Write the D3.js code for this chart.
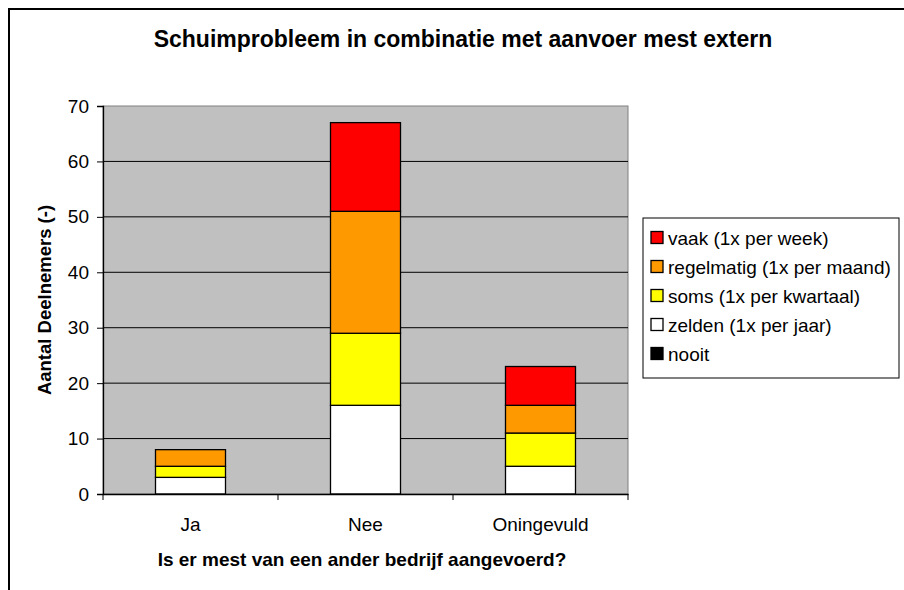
<!DOCTYPE html>
<html>
<head>
<meta charset="utf-8">
<script src="https://cdn.jsdelivr.net/npm/d3@7"></script>
<style>
  body { margin: 0; background: #fff; }
  text { font-family: Arial, "Liberation Sans", sans-serif; }
</style>
</head>
<body>
<div id="chart"></div>
<script>
// data
var categories = ["Ja", "Nee", "Oningevuld"];
var seriesNames = ["nooit", "zelden (1x per jaar)", "soms (1x per kwartaal)", "regelmatig (1x per maand)", "vaak (1x per week)"];
var nooit      = [0, 0, 0];
var zelden     = [3, 16, 5];
var soms       = [2, 13, 6];
var regelmatig = [3, 22, 5];
var vaak       = [0, 16, 7];
var seriesColors = ["#000000", "#ffffff", "#ffff00", "#ff9900", "#ff0000"];
var yTicks = [0, 10, 20, 30, 40, 50, 60, 70];

var width = 904, height = 590,
    plot = { left: 103, right: 628, top: 106, bottom: 494 };

var svg = d3.select("#chart").append("svg")
    .attr("width", width)
    .attr("height", height);

// outer chart border
svg.append("rect")
    .attr("x", 9).attr("y", 9)
    .attr("width", width + 20).attr("height", height + 20)
    .attr("fill", "#fff")
    .attr("stroke", "#000")
    .attr("stroke-width", 2);

var x = d3.scaleBand()
    .domain(categories)
    .range([plot.left, plot.right])
    .paddingInner(0.6)
    .paddingOuter(0.3);

var xb = d3.scaleBand()
    .domain(categories)
    .range([plot.left, plot.right]);

var y = d3.scaleLinear()
    .domain([0, 70])
    .range([plot.bottom, plot.top]);

// plot area
svg.append("rect")
    .attr("x", plot.left).attr("y", plot.top)
    .attr("width", plot.right - plot.left)
    .attr("height", plot.bottom - plot.top)
    .attr("fill", "#c0c0c0")
    .attr("stroke", "#808080")
    .attr("stroke-width", 1);

// gridlines
svg.append("g")
  .selectAll("line")
  .data(yTicks.filter(function(d) { return d > 0 && d < 70; }))
  .enter().append("line")
    .attr("x1", plot.left).attr("x2", plot.right)
    .attr("y1", function(d) { return y(d); })
    .attr("y2", function(d) { return y(d); })
    .attr("stroke", "#000")
    .attr("stroke-width", 1);

// stacked bars
var rows = categories.map(function(c, i) {
  return { cat: c, nooit: nooit[i], zelden: zelden[i], soms: soms[i], regelmatig: regelmatig[i], vaak: vaak[i] };
});
var keys = ["nooit", "zelden", "soms", "regelmatig", "vaak"];
var stacked = d3.stack().keys(keys)(rows);

svg.append("g")
  .selectAll("g")
  .data(stacked)
  .enter().append("g")
    .attr("fill", function(d, i) { return seriesColors[i]; })
  .selectAll("rect")
  .data(function(d) { return d.filter(function(p) { return p[1] - p[0] > 0; }); })
  .enter().append("rect")
    .attr("x", function(d) { return x(d.data.cat); })
    .attr("width", x.bandwidth())
    .attr("y", function(d) { return y(d[1]); })
    .attr("height", function(d) { return y(d[0]) - y(d[1]); })
    .attr("stroke", "#000")
    .attr("stroke-width", 1.3);

// y axis
var yAxis = svg.append("g")
    .attr("transform", "translate(" + plot.left + ",0)")
    .call(d3.axisLeft(y).tickValues(yTicks).tickSize(6).tickPadding(8));
yAxis.select(".domain").attr("stroke", "#000").attr("stroke-width", 1.3);
yAxis.selectAll(".tick line").attr("stroke", "#000");
yAxis.selectAll("text").style("font-size", "19px").attr("fill", "#000");

// x axis
var xAxis = svg.append("g")
    .attr("transform", "translate(0," + plot.bottom + ")")
    .call(d3.axisBottom(xb).tickSize(0).tickPadding(24));
xAxis.select(".domain").attr("stroke", "#000").attr("stroke-width", 1.3);
xAxis.selectAll("text").style("font-size", "19px").attr("fill", "#000");
svg.append("g")
  .selectAll("line")
  .data(categories.concat(["end"]))
  .enter().append("line")
    .attr("x1", function(d, i) { return plot.left + i * xb.step(); })
    .attr("x2", function(d, i) { return plot.left + i * xb.step(); })
    .attr("y1", plot.bottom).attr("y2", plot.bottom + 6)
    .attr("stroke", "#000");

// titles
svg.append("text")
    .attr("x", 463).attr("y", 47)
    .attr("text-anchor", "middle")
    .style("font-size", "23px").style("font-weight", "bold")
    .text("Schuimprobleem in combinatie met aanvoer mest extern");

svg.append("text")
    .attr("x", 362).attr("y", 566)
    .attr("text-anchor", "middle")
    .style("font-size", "19px").style("font-weight", "bold")
    .text("Is er mest van een ander bedrijf aangevoerd?");

svg.append("text")
    .attr("transform", "translate(51," + ((plot.top + plot.bottom) / 2) + ") rotate(-90)")
    .attr("text-anchor", "middle")
    .style("font-size", "18.5px").style("font-weight", "bold")
    .text("Aantal Deelnemers (-)");

// legend
var legend = svg.append("g").attr("transform", "translate(643,218)");
legend.append("rect")
    .attr("width", 256).attr("height", 160)
    .attr("fill", "#fff").attr("stroke", "#000").attr("stroke-width", 1);

var order = [4, 3, 2, 1, 0];
var item = legend.selectAll("g.item")
  .data(order)
  .enter().append("g")
    .attr("class", "item")
    .attr("transform", function(d, i) { return "translate(8," + (19.5 + i * 29) + ")"; });
item.append("rect")
    .attr("x", 0).attr("y", -6)
    .attr("width", 12).attr("height", 12)
    .attr("fill", function(d) { return seriesColors[d]; })
    .attr("stroke", "#000").attr("stroke-width", 1.3);
item.append("text")
    .attr("x", 17).attr("y", 7)
    .style("font-size", "19px")
    .text(function(d) { return seriesNames[d]; });
</script>
</body>
</html>
